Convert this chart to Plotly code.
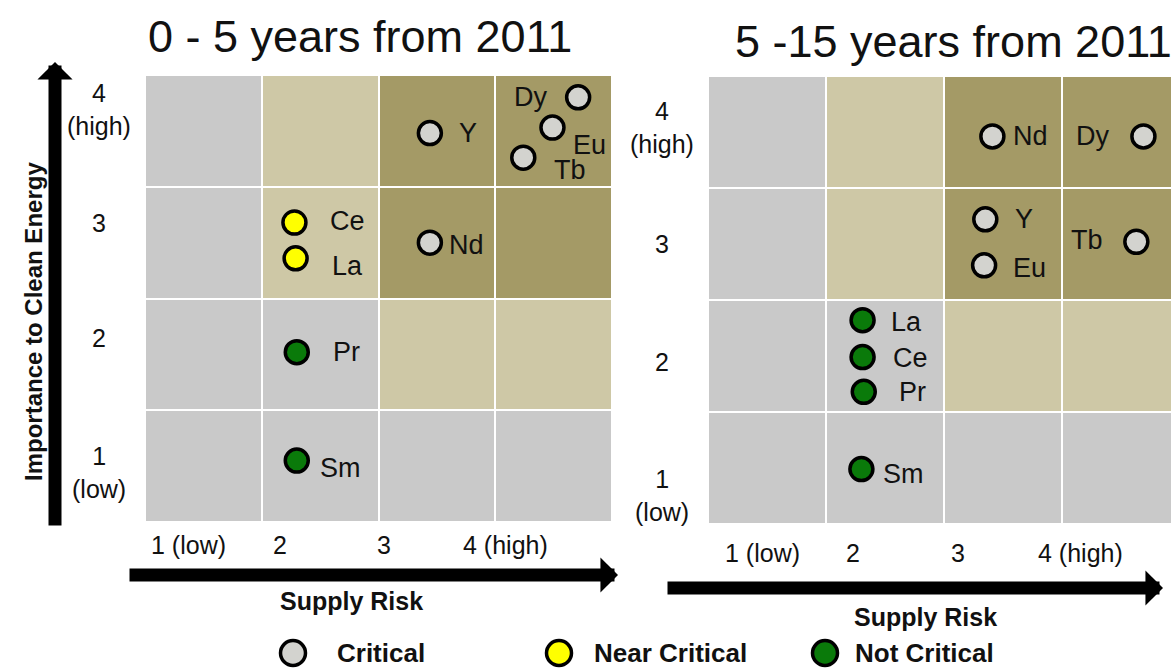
import plotly.graph_objects as go

W, H = 1171, 670
FONT = "Liberation Sans, Arial, sans-serif"

# risk zones: rows = importance 1..4, cols = supply risk 1..4
# 0 = low, 1 = medium, 2 = high
risk_levels = [1, 2, 3, 4]
zone_grid = [
    [0, 0, 0, 0],
    [0, 0, 1, 1],
    [0, 1, 2, 2],
    [0, 1, 2, 2],
]
zone_colors = ["#c9c9c9", "#cec8a6", "#a49a66"]

x_tick_labels = ["1 (low)", "2", "3", "4 (high)"]
y_tick_labels = ["1<br>(low)", "2", "3", "4<br>(high)"]

status_names = ["Critical", "Near Critical", "Not Critical"]
status_colors = {"Critical": "#d3d3cf", "Near Critical": "#ffff00", "Not Critical": "#0a7a0a"}

# 0 - 5 years
short_elements = ["Y", "Dy", "Eu", "Tb", "Nd", "Ce", "La", "Pr", "Sm"]
short_supply = [2.94, 4.21, 3.99, 3.74, 2.94, 1.78, 1.79, 1.80, 1.80]
short_importance = [3.98, 4.30, 4.03, 3.76, 3.00, 3.18, 2.86, 2.02, 1.05]
short_status = ["Critical"] * 5 + ["Near Critical"] * 2 + ["Not Critical"] * 2

# 5 - 15 years
medium_elements = ["Nd", "Dy", "Y", "Eu", "Tb", "La", "Ce", "Pr", "Sm"]
medium_supply = [2.91, 4.19, 2.85, 2.84, 4.13, 1.81, 1.81, 1.82, 1.80]
medium_importance = [3.96, 3.96, 3.22, 2.81, 3.02, 2.32, 1.99, 1.68, 0.99]
medium_status = ["Critical"] * 5 + ["Not Critical"] * 4

# label offsets in px (dx, dy), dy positive = down
short_offsets = [(38, 0), (-48, 0), (37, 17), (47, 12), (37, 2), (53, -2), (52, 8), (50, 0), (44, 7)]
medium_offsets = [(38, 0), (-51, 0), (39, 0), (45, 3), (-49, -2), (44, 2), (48, 1), (49, 0), (42, 5)]


def px_x(p):
    return p / W


def px_y(p):
    return (H - p) / H


fig = go.Figure()

panels = [
    ("x", "y", short_elements, short_supply, short_importance, short_status, short_offsets),
    ("x2", "y2", medium_elements, medium_supply, medium_importance, medium_status, medium_offsets),
]

for xa, ya, names, sx, sy, st, offs in panels:
    fig.add_trace(go.Heatmap(
        x=risk_levels, y=risk_levels, z=zone_grid,
        colorscale=[[0, zone_colors[0]], [0.5, zone_colors[1]], [1, zone_colors[2]]],
        zmin=0, zmax=2, xgap=2, ygap=2, showscale=False, hoverinfo="skip",
        xaxis=xa, yaxis=ya,
    ))
    fig.add_trace(go.Scatter(
        x=sx, y=sy, mode="markers", text=names,
        marker=dict(size=23, color=[status_colors[s] for s in st],
                    line=dict(color="black", width=3.5)),
        showlegend=False, xaxis=xa, yaxis=ya, cliponaxis=False,
    ))
    for name, x, y, (dx, dy) in zip(names, sx, sy, offs):
        fig.add_annotation(x=x, y=y, xref=xa, yref=ya, text=name, showarrow=False,
                           xanchor="center", yanchor="middle", xshift=dx, yshift=-dy,
                           font=dict(family=FONT, size=27, color="#111"))

# legend row drawn on its own hidden axis
fig.add_trace(go.Scatter(
    x=status_names, y=[0, 0, 0], mode="markers",
    marker=dict(size=25, color=[status_colors[s] for s in status_names],
                line=dict(color="black", width=3.5)),
    showlegend=False, xaxis="x3", yaxis="y3", cliponaxis=False,
))
for name, gap in zip(status_names, [42, 33, 28]):
    fig.add_annotation(x=name, y=0, xref="x3", yref="y3", text="<b>%s</b>" % name,
                       showarrow=False, xanchor="left", yanchor="middle", xshift=gap,
                       font=dict(family=FONT, size=26, color="#111"))


def label(x, y, text, size, xref="paper", yref="paper", **kw):
    fig.add_annotation(x=x, y=y, xref=xref, yref=yref, text=text, showarrow=False,
                       xanchor="center", yanchor="middle",
                       font=dict(family=FONT, size=size, color="#111"), **kw)


# tick labels
for lab, v, sh in zip(y_tick_labels, risk_levels, [-6, 16, 20, 21]):
    label(px_x(99), v, lab, 25, yref="y", yshift=sh)
for lab, v, sh in zip(y_tick_labels, risk_levels, [-27, -6, 0, 4]):
    label(px_x(662), v, lab, 25, yref="y2", yshift=sh)
for lab, v, sh in zip(x_tick_labels, risk_levels, [-15, -40, -53, -48]):
    label(v, px_y(545), lab, 25, xref="x", xshift=sh)
for lab, v, sh in zip(x_tick_labels, risk_levels, [-5, -32, -45, -41]):
    label(v, px_y(553), lab, 25, xref="x2", xshift=sh)

# titles
label(px_x(360), px_y(37), "0 - 5 years from 2011", 45)
label(px_x(953), px_y(42), "5 -15 years from 2011", 45)
label(px_x(351), px_y(601), "<b>Supply Risk</b>", 25)
label(px_x(926), px_y(617), "<b>Supply Risk</b>", 25)
label(px_x(33), px_y(322), "<b>Importance to Clean Energy</b>", 24, textangle=-90)

# big axis arrows
arrow = dict(xref="paper", yref="paper", text="", showarrow=True, arrowhead=1,
             arrowwidth=13, arrowsize=0.45, arrowcolor="black", standoff=0)
fig.add_annotation(x=px_x(55), y=px_y(62), ax=0, ay=465, **arrow)
fig.add_annotation(x=px_x(618), y=px_y(575), ax=-490, ay=0, **arrow)
fig.add_annotation(x=px_x(1163), y=px_y(588), ax=-497, ay=0, **arrow)

hidden = dict(visible=False, showgrid=False, zeroline=False, fixedrange=True)
fig.update_layout(
    width=W, height=H,
    margin=dict(l=0, r=0, t=0, b=0),
    paper_bgcolor="white", plot_bgcolor="white",
    showlegend=False,
    xaxis=dict(domain=[px_x(145), px_x(612)], range=[0.5, 4.5], anchor="y", **hidden),
    yaxis=dict(domain=[px_y(522), px_y(75)], range=[0.5, 4.5], anchor="x", **hidden),
    xaxis2=dict(domain=[px_x(708), 1], range=[0.5, 0.5 + (W - 708) / 118], anchor="y2", **hidden),
    yaxis2=dict(domain=[px_y(524), px_y(76)], range=[0.5, 4.5], anchor="x2", **hidden),
    xaxis3=dict(domain=[0, 1], range=[-293 / 266, (W - 293) / 266], anchor="y3", **hidden),
    yaxis3=dict(domain=[0, px_y(636)], range=[-1, 1], anchor="x3", **hidden),
)

# drop the page's default body margin so the figure sits at the window's corner
fig.write_html("out.html", config={"displayModeBar": False},
               post_script="document.body.style.margin = '0';")
